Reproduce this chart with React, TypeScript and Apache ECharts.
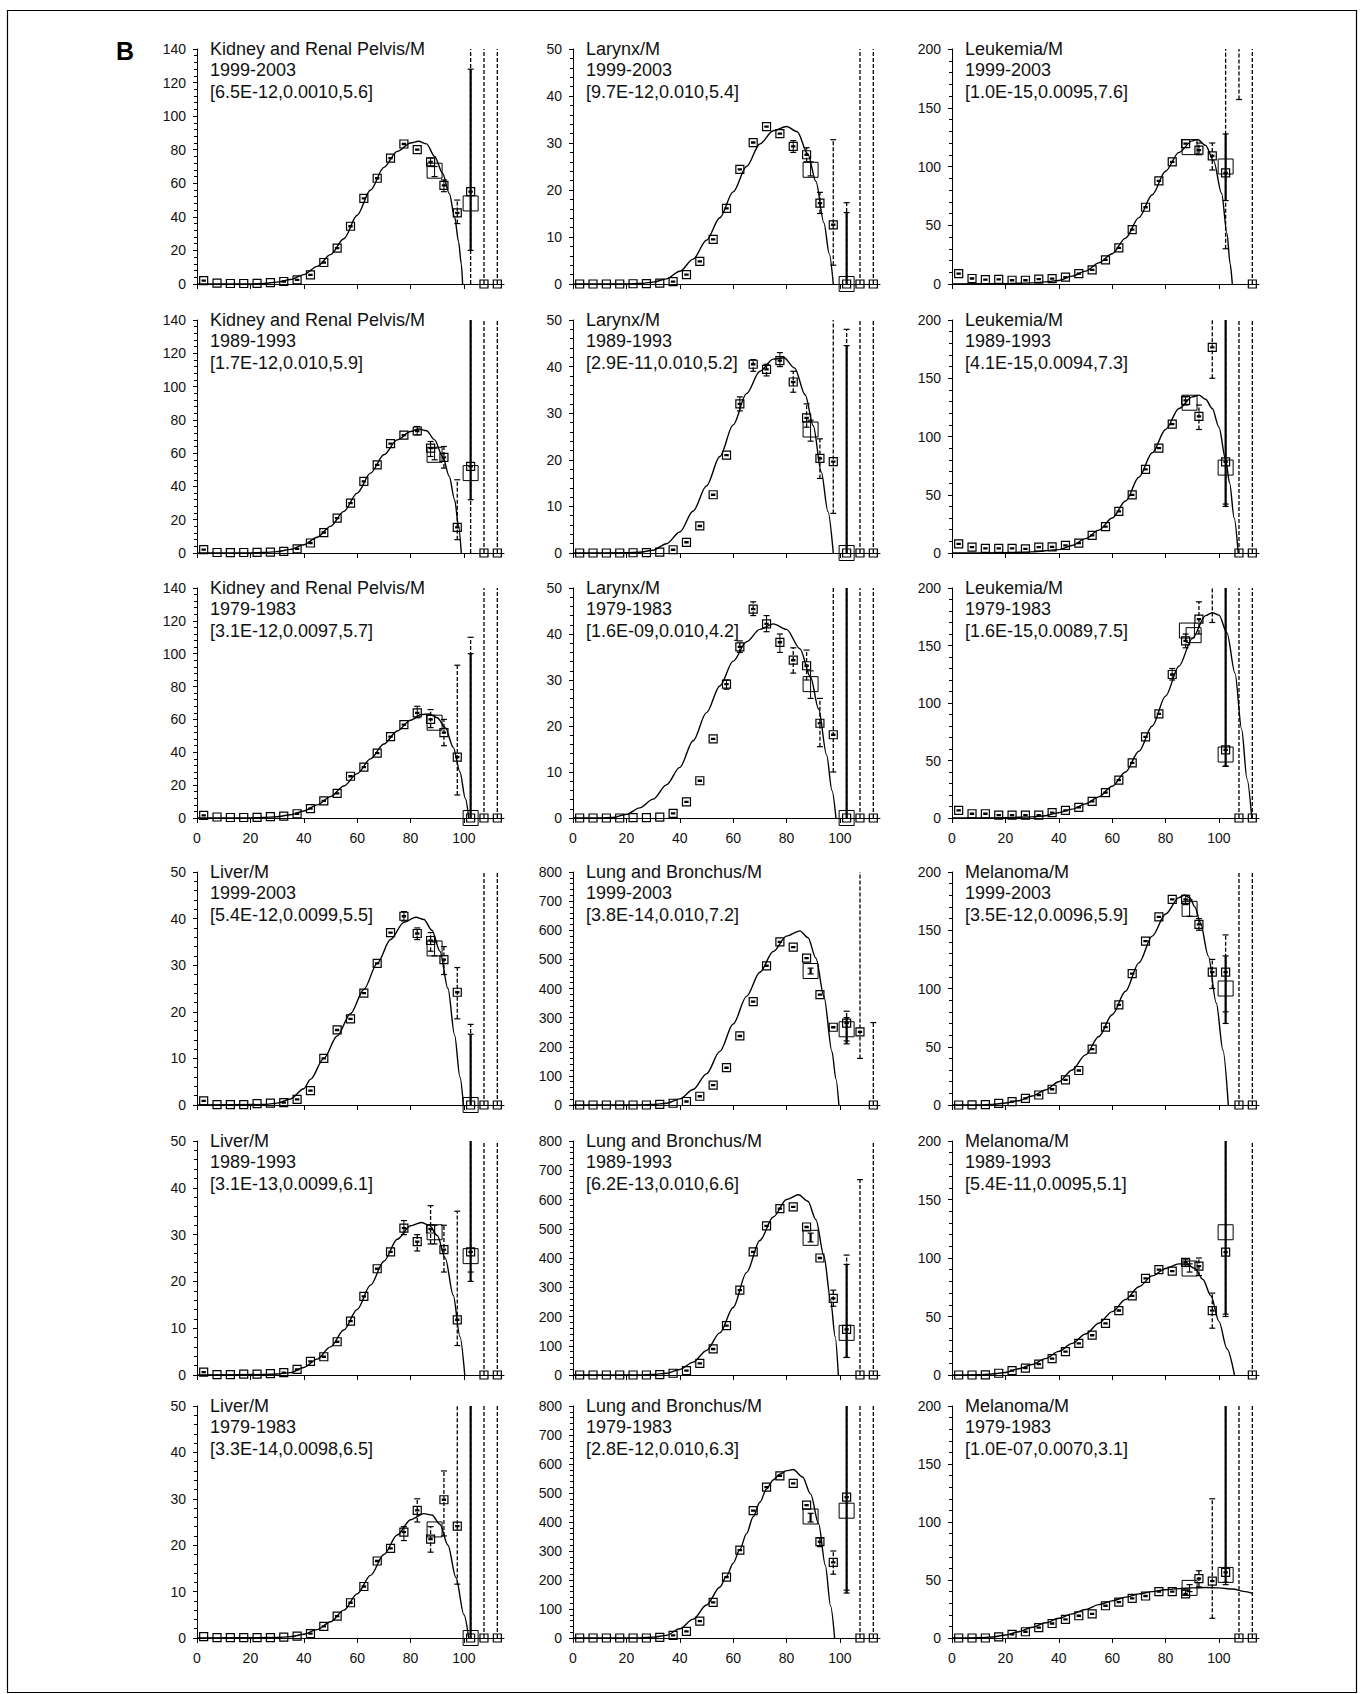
import { useEffect, useRef } from "react";
import * as echarts from "echarts";

// ---------- shared axis values ----------
const AGES = [2.5, 7.5, 12.5, 17.5, 22.5, 27.5, 32.5, 37.5, 42.5, 47.5, 52.5, 57.5, 62.5, 67.5, 72.5, 77.5, 82.5, 87.5, 92.5, 97.5, 102.5, 107.5, 112.5];
const X_TICKS = [0, 20, 40, 60, 80, 100];
const PERIODS = ["1999-2003", "1989-1993", "1979-1983"];

// ---------- Kidney and Renal Pelvis/M ----------
const kidney99Pts = [2, 0.5, 0.3, 0.3, 0.4, 0.8, 1.5, 2.5, 5.4, 12.8, 21.4, 34.4, 51, 63, 75, 83.4, 80, 72.8, 58.8, 42.4, 55, 0, 0];
const kidney99Big = [[89, 67.5], [102.5, 48]];
const kidney99Err = [[87.5, 70, 75, "s"], [89, 64, 70, "s"], [92.5, 55, 62, "s"], [97.5, 36, 50, "d"], [102.5, 20, 128, "S"], [102.5, 0, null, "d"], [107.5, 0, null, "d"], [112.5, 0, null, "d"]];
const kidney99Curve = [[0, 0], [20, 0.1], [25, 0.4], [30, 1.1], [35, 2.7], [40, 5.6], [45, 10.5], [50, 17.5], [55, 27], [60, 41], [65, 56], [70, 69.5], [75, 79], [80, 84], [83, 85], [86, 83.5], [89, 76], [92, 66], [94.5, 54], [96.5, 40], [98, 25], [99, 12], [99.5, 0]];

const kidney89Pts = [2, 0.3, 0.2, 0.3, 0.4, 0.5, 1, 2.5, 6, 12.3, 21, 30, 43, 53, 65.7, 70.8, 73.3, 63, 57.5, 15.4, 52, 0, 0];
const kidney89Big = [[89, 59], [102.5, 48]];
const kidney89Err = [[82.5, 71, 76, "s"], [87.5, 58, 67, "s"], [89, 56, 63, "s"], [92.5, 51, 64, "d"], [97.5, 8, 44, "d"], [102.5, 32, null, "S"], [102.5, 0, null, "d"], [107.5, 0, null, "d"], [112.5, 0, null, "d"]];
const kidney89Curve = [[0, 0], [20, 0.1], [25, 0.3], [30, 0.8], [35, 2.2], [40, 5], [45, 9.5], [50, 16], [55, 25], [60, 36], [65, 48], [70, 59], [75, 68], [80, 73], [83, 74.5], [86, 73.5], [89, 68], [92, 58], [94.5, 46], [96.5, 32], [98, 16], [99, 0]];

const kidney79Pts = [1.6, 0.6, 0.3, 0.3, 0.4, 0.8, 1.2, 2.6, 5.7, 10.4, 15, 25.4, 31, 39.5, 49.5, 56.8, 64, 60, 52, 37, 0, 0, 0];
const kidney79Big = [[89, 58], [102.5, 0]];
const kidney79Err = [[82.5, 61, 68, "s"], [87.5, 55, 66, "d"], [92.5, 44, 60, "d"], [97.5, 14, 93, "d"], [102.5, 0, 100, "S"], [102.5, 0, 110, "d"], [107.5, 0, null, "d"], [112.5, 0, null, "d"]];
const kidney79Curve = [[0, 0], [20, 0.1], [25, 0.3], [30, 0.8], [35, 2], [40, 4.3], [45, 8], [50, 13], [55, 19.5], [60, 27], [65, 36], [70, 45], [75, 53], [80, 59.5], [84, 63], [87, 63.3], [90, 61], [93, 55], [96, 43], [98.5, 28], [100.5, 12], [101.8, 0]];

// ---------- Larynx/M ----------
const larynx99Pts = [0, 0, 0, 0, 0.05, 0.1, 0.2, 0.5, 2, 4.8, 9.5, 16.1, 24.4, 30.1, 33.5, 32, 29.3, 27.5, 17.2, 12.6, 0, 0, 0];
const larynx99Big = [[89, 24.3], [102.5, 0]];
const larynx99Err = [[82.5, 28, 30.5, "s"], [87.5, 26, 29, "d"], [89, 23, 26, "s"], [92.5, 15, 19.5, "d"], [97.5, 4, 30.7, "d"], [102.5, 0, 15.2, "S"], [102.5, 0, 17.3, "d"], [107.5, 0, null, "d"], [112.5, 0, null, "d"]];
const larynx99Curve = [[0, 0], [20, 0], [25, 0.1], [30, 0.4], [35, 1.1], [40, 2.7], [45, 5.3], [50, 9.3], [55, 14.1], [60, 19.6], [65, 25], [70, 29.8], [75, 32.6], [80, 33.5], [84, 32.4], [88, 27.6], [91, 21.8], [94, 13], [96, 6.4], [97.5, 0]];

const larynx89Pts = [0, 0, 0, 0, 0.05, 0.1, 0.2, 0.7, 2.3, 5.8, 12.5, 21, 32, 40.5, 39.4, 41.3, 36.7, 29, 20.3, 19.6, 0, 0, 0];
const larynx89Big = [[89, 26.5], [102.5, 0]];
const larynx89Err = [[62.5, 30.5, 33.5, "s"], [67.5, 39, 41.5, "d"], [72.5, 38, 40.5, "d"], [77.5, 40, 43, "s"], [82.5, 34.5, 39, "d"], [87.5, 27, 32, "d"], [89, 24, 28.5, "s"], [92.5, 16, 24.5, "d"], [97.5, 8.5, null, "d"], [102.5, 0, 44.5, "S"], [102.5, 0, 48, "d"], [107.5, 0, null, "d"], [112.5, 0, null, "d"]];
const larynx89Curve = [[0, 0], [20, 0.05], [25, 0.15], [30, 0.6], [35, 2], [40, 4.5], [45, 9], [50, 14.4], [55, 20.7], [60, 27.5], [65, 34.2], [70, 39], [75, 41.6], [79, 41.9], [83, 39.7], [87, 33.9], [90, 27.3], [93, 17.4], [95.5, 8.9], [97.5, 0]];

const larynx79Pts = [0, 0, 0, 0, 0.1, 0.1, 0.2, 1, 3.5, 8.1, 17.2, 29.1, 37.2, 45.4, 42.2, 38.2, 34.3, 33.1, 20.6, 18.1, 0, 0, 0];
const larynx79Big = [[89, 29.1], [102.5, 0]];
const larynx79Err = [[57.5, 28, 30, "s"], [62.5, 36, 38.5, "d"], [67.5, 44, 47, "d"], [72.5, 40.5, 44, "s"], [77.5, 36, 40, "s"], [82.5, 31.5, 37, "d"], [87.5, 30, 36.5, "d"], [89, 26, 32, "s"], [92.5, 15.5, 26, "d"], [97.5, 10, null, "d"], [102.5, 0, null, "S"], [102.5, 0, null, "d"], [107.5, 0, null, "d"], [112.5, 0, null, "d"]];
const larynx79Curve = [[0, 0], [10, 0], [15, 0.1], [20, 0.8], [25, 2.2], [30, 4.1], [35, 7.2], [40, 11], [45, 16.8], [50, 22.9], [55, 28.7], [60, 34.1], [65, 38.3], [70, 41], [75, 42.2], [80, 41], [85, 36.8], [89, 30.6], [92, 23.7], [95, 13.7], [97, 6], [98.5, 0]];

// ---------- Leukemia/M ----------
const leukemia99Pts = [8.8, 4.7, 3.8, 4, 3.2, 3.2, 4.2, 4.5, 5.9, 8.8, 12, 20.5, 30.7, 46.3, 65.3, 87.8, 104, 119.5, 114, 109, 94.6, null, 0];
const leukemia99Big = [[89, 116.5], [102.5, 100]];
const leukemia99Err = [[92.5, 110, 120, "d"], [97.5, 97, 120, "d"], [102.5, 71, 127.7, "S"], [102.5, 30, null, "d"], [107.5, 157, null, "d"], [112.5, 0, null, "d"]];
const leukemia99Curve = [[0, 0], [20, 0.3], [30, 1], [35, 1.8], [40, 3], [45, 6.7], [50, 11], [55, 18], [60, 25.8], [65, 39], [70, 56.5], [75, 76], [80, 96], [85, 112], [90, 121.8], [92, 123], [95, 118], [98, 104.8], [101, 77], [103, 43], [104.2, 17], [105, 0]];

const leukemia89Pts = [7.9, 5, 4, 4, 4, 3.5, 5, 5.3, 6.5, 8.5, 15.2, 22.6, 35.8, 49.9, 71.8, 90, 110.6, 131, 117.3, 176.5, 78.3, 0, 0];
const leukemia89Big = [[89, 129], [102.5, 73.3]];
const leukemia89Err = [[87.5, 127, 134, "s"], [92.5, 106, 127, "d"], [97.5, 150, null, "d"], [102.5, 40, null, "S"], [102.5, 42, null, "d"], [107.5, 0, null, "d"], [112.5, 0, null, "d"]];
const leukemia89Curve = [[0, 0], [20, 0.2], [30, 1], [40, 2.9], [45, 6.5], [50, 12.3], [55, 19.6], [60, 30], [65, 44.6], [70, 65], [75, 86], [80, 106], [85, 124], [90, 134], [92.5, 135.5], [95, 132], [97.5, 124], [100, 108], [102.5, 80], [104, 60], [105.7, 30], [107.2, 0]];

const leukemia79Pts = [6.7, 3.7, 3.7, 2.5, 2.5, 2.5, 2.5, 4.6, 6.7, 9.2, 14.4, 22, 33, 48, 70.6, 90.5, 124.8, 154, 173, null, 59.2, 0, 0];
const leukemia79Big = [[88, 163], [90.5, 159], [102.5, 55.2]];
const leukemia79Err = [[82.5, 120, 130, "s"], [87.5, 148, 160, "d"], [92.5, 160, 188, "d"], [97.5, 170, null, "d"], [102.5, 45, null, "S"], [102.5, 45, null, "d"], [107.5, 0, null, "d"], [112.5, 0, null, "d"]];
const leukemia79Curve = [[0, 0], [5, 0], [20, 0.3], [30, 1], [35, 2], [40, 4.6], [45, 7.7], [50, 12.3], [55, 18.4], [60, 27.6], [65, 40], [70, 58], [75, 80], [80, 106], [85, 132], [90, 156], [95, 176], [97.5, 178.5], [100, 176.4], [103, 161], [106, 126], [108.5, 77], [110.5, 34], [112.3, 0]];

// ---------- Liver/M ----------
const liver99Pts = [0.9, 0.1, 0.1, 0.1, 0.3, 0.4, 0.5, 1.2, 3.1, 10, 16.1, 18.5, 24, 30.4, 37, 40.5, 36.8, 35.3, 31.2, 24.2, 0, 0, 0];
const liver99Big = [[89, 33.6], [102.5, 0]];
const liver99Err = [[77.5, 39.5, 41.5, "s"], [82.5, 35.5, 38, "d"], [87.5, 33, 37, "d"], [89, 32, 35, "s"], [92.5, 28, 34, "d"], [97.5, 18.5, 29.5, "d"], [102.5, 0, 15.2, "S"], [102.5, 0, 17.3, "d"], [107.5, 0, null, "d"], [112.5, 0, null, "d"]];
const liver99Curve = [[0, 0], [25, 0.1], [30, 0.4], [35, 1.3], [40, 3.5], [42.5, 5.5], [47.5, 10], [52.5, 14.8], [57.5, 19.6], [62.5, 24.8], [67.5, 30.4], [72.5, 35.5], [77.5, 39.2], [82, 40.3], [85, 39.8], [88, 37.5], [91, 33], [94, 25], [96.5, 15], [98.5, 6], [99.8, 0]];

const liver89Pts = [0.6, 0.1, 0.1, 0.2, 0.2, 0.3, 0.5, 1.2, 2.9, 3.9, 7.1, 11.5, 16.8, 22.7, 26.3, 31.4, 28.5, 31.2, 26.8, 11.8, 26.3, 0, 0];
const liver89Big = [[89, 30.5], [102.5, 25.4]];
const liver89Err = [[77.5, 30, 33, "s"], [82.5, 26.5, 30, "d"], [87.5, 28, 36.2, "d"], [89, 28, 32, "s"], [92.5, 22, 32, "d"], [97.5, 6.3, 35, "d"], [102.5, 20, null, "S"], [102.5, 22, null, "d"], [107.5, 0, null, "d"], [112.5, 0, null, "d"]];
const liver89Curve = [[0, 0], [25, 0.1], [30, 0.2], [35, 0.5], [40, 1.6], [45, 3.4], [50, 6], [55, 9.6], [60, 14], [65, 19.2], [70, 24.3], [75, 29], [80, 31.9], [84, 32.6], [87, 32], [90, 29.8], [93, 25], [96, 17], [98.5, 8.2], [100.3, 0]];

const liver79Pts = [0.3, 0.1, 0.1, 0.1, 0.1, 0.1, 0.2, 0.4, 0.95, 2.5, 4.7, 7.6, 11.1, 16.6, 19.3, 22.8, 27.5, 21.3, 29.8, 24.1, 0, 0, 0];
const liver79Big = [[89, 23.4], [102.5, 0]];
const liver79Err = [[77.5, 21, 24, "s"], [82.5, 25, 30, "d"], [87.5, 18.5, 24, "d"], [92.5, 22, 36, "d"], [97.5, 11.6, null, "d"], [102.5, 0, null, "S"], [102.5, 0, null, "d"], [107.5, 0, null, "d"], [112.5, 0, null, "d"]];
const liver79Curve = [[0, 0], [30, 0.1], [35, 0.3], [40, 0.8], [45, 1.8], [50, 3.5], [55, 6], [60, 9.5], [65, 13.5], [70, 18], [75, 22.2], [80, 25.5], [85, 26.8], [88, 26.5], [91, 24.5], [94, 20], [97, 13], [100, 5], [101.8, 0]];

// ---------- Lung and Bronchus/M ----------
const lung99Pts = [0, 0, 0, 0, 0, 0, 2, 6, 12, 30, 68, 128, 237, 355, 478, 560, 542, 504, 379, 267, 281, 251, 0];
const lung99Big = [[89, 460], [102.5, 260]];
const lung99Err = [[89, 450, 470, "S"], [102.5, 220, 322, "d"], [102.5, 210, 300, "S"], [107.5, 160, null, "d"], [112.5, 0, 283, "d"]];
const lung99Curve = [[0, 0], [25, 0], [30, 2], [35, 6], [40, 21], [45, 53], [50, 107], [55, 184], [60, 278], [65, 373], [70, 456], [75, 527], [80, 580], [85, 598], [88, 575], [91, 504], [94, 373], [97, 184], [98.5, 89], [99.6, 0]];

const lung89Pts = [0, 0, 0, 0, 0, 0, 1, 6, 15, 40, 89, 169, 290, 421, 510, 569, 575, 506, 400, 262, 156, 0, 0];
const lung89Big = [[89, 469], [102.5, 144]];
const lung89Err = [[89, 455, 485, "S"], [97.5, 235, 290, "d"], [102.5, 60, 378, "S"], [102.5, 60, 410, "d"], [107.5, 0, 668, "d"], [112.5, 0, null, "d"]];
const lung89Curve = [[0, 0], [25, 0], [30, 2], [35, 6], [40, 19], [45, 44], [50, 84], [55, 144], [60, 231], [65, 350], [70, 460], [75, 540], [80, 600], [84.5, 616], [88, 594], [91, 531], [94, 406], [96.5, 256], [98.2, 131], [99.4, 0]];

const lung79Pts = [0, 0, 0, 0, 0, 0, 2, 9, 23, 58, 123, 210, 303, 439, 520, 559, 533, 458, 332, 261, 486, 0, 0];
const lung79Big = [[89, 419], [102.5, 439]];
const lung79Err = [[89, 400, 430, "S"], [92.5, 315, 345, "d"], [97.5, 220, 300, "d"], [102.5, 155, null, "S"], [102.5, 165, null, "d"], [107.5, 0, null, "d"], [112.5, 0, null, "d"]];
const lung79Curve = [[0, 0], [25, 0], [30, 3], [35, 9], [40, 32], [45, 65], [50, 114], [55, 175], [57.5, 213], [60, 258], [62.5, 305], [65, 360], [67.5, 418], [70, 468], [72.5, 514], [75, 545], [77.5, 565], [80, 577], [82.5, 581], [86, 555], [89, 497], [92, 394], [94.5, 252], [96.5, 110], [98, 0]];

// ---------- Melanoma/M ----------
const melanoma99Pts = [0, 0.1, 0.3, 1.4, 2.9, 5.7, 8.6, 13.5, 21.5, 29.6, 47.9, 66.9, 86, 112.8, 140.6, 161.5, 176.5, 176.5, 155, 114, 114, 0, 0];
const melanoma99Big = [[89, 168.4], [102.5, 100]];
const melanoma99Err = [[87.5, 172, 180, "s"], [89, 162, 176, "s"], [92.5, 150, 160, "d"], [97.5, 100, 125, "d"], [102.5, 70, 128, "S"], [102.5, 80, 146, "d"], [107.5, 0, null, "d"], [112.5, 0, null, "d"]];
const melanoma99Curve = [[0, 0], [10, 0.1], [15, 0.5], [20, 1.7], [25, 3.7], [30, 7.7], [35, 12.9], [40, 20], [45, 30], [50, 43], [55, 58.8], [60, 77.5], [65, 97.6], [70, 122], [75, 145], [80, 164], [85, 178], [87, 180], [89, 178], [91, 170], [93, 157], [96, 128], [99, 87.5], [101.5, 47], [103.5, 0]];

const melanoma89Pts = [0, 0, 0.1, 1.5, 3.7, 5.9, 9.3, 14, 20, 27.1, 34, 44.2, 55.1, 67.6, 82.6, 90, 88.8, 96.3, 93.1, 55, 105, null, 0];
const melanoma89Big = [[89, 91], [102.5, 122]];
const melanoma89Err = [[87.5, 93, 99, "s"], [89, 88, 95, "s"], [92.5, 85, 100, "d"], [97.5, 40, 70, "d"], [102.5, 52, null, "S"], [102.5, 50, null, "d"], [112.5, 0, null, "d"]];
const melanoma89Curve = [[0, 0], [10, 0.2], [15, 0.8], [20, 2.2], [25, 5.3], [30, 9], [35, 14], [40, 20.2], [45, 27], [50, 35], [55, 44.2], [60, 54.2], [65, 64.5], [70, 75.4], [75, 84.7], [80, 91], [85, 95], [88, 94.7], [91, 91], [94, 81.6], [97, 67.6], [100, 45.8], [103, 22.4], [105.8, 0]];

const melanoma79Pts = [0, 0, 0, 1, 3.2, 5.4, 9, 12.5, 16, 19.2, 20.8, 27.8, 31, 34.2, 36.2, 40, 40, 38, 51.2, 49, 56.6, 0, 0];
const melanoma79Big = [[89, 43.2], [102.5, 54.4]];
const melanoma79Err = [[87.5, 37, 41, "s"], [89, 40, 46, "s"], [92.5, 44, 58, "d"], [97.5, 17, 120, "d"], [102.5, 48, null, "S"], [102.5, 46, null, "d"], [107.5, 0, null, "d"], [112.5, 0, null, "d"]];
const melanoma79Curve = [[0, 0], [10, 0.2], [15, 0.8], [20, 2.6], [25, 5.4], [30, 9.3], [35, 13.1], [40, 17], [45, 20.8], [50, 24.6], [55, 28.8], [60, 32], [65, 35.2], [70, 38], [75, 40], [80, 41.6], [85, 42.6], [90, 43.2], [95, 43.5], [100, 43.2], [105, 42.2], [110, 40], [112.5, 38.4]];

// ---------- panel table (built from the arrays above) ----------
type Panel = {
  site: string; period: string; params: string; yMax: number; yInt: number;
  pts: (number | null)[]; big: number[][]; err: any[]; curve: number[][];
};
const mk = (site: string, period: string, params: string, yMax: number, yInt: number, pts: any, big: any, err: any, curve: any): Panel =>
  ({ site, period, params, yMax, yInt, pts, big, err, curve });

const PANELS: Panel[] = [
  mk("Kidney and Renal Pelvis/M", PERIODS[0], "[6.5E-12,0.0010,5.6]", 140, 20, kidney99Pts, kidney99Big, kidney99Err, kidney99Curve),
  mk("Larynx/M", PERIODS[0], "[9.7E-12,0.010,5.4]", 50, 10, larynx99Pts, larynx99Big, larynx99Err, larynx99Curve),
  mk("Leukemia/M", PERIODS[0], "[1.0E-15,0.0095,7.6]", 200, 50, leukemia99Pts, leukemia99Big, leukemia99Err, leukemia99Curve),
  mk("Kidney and Renal Pelvis/M", PERIODS[1], "[1.7E-12,0.010,5.9]", 140, 20, kidney89Pts, kidney89Big, kidney89Err, kidney89Curve),
  mk("Larynx/M", PERIODS[1], "[2.9E-11,0.010,5.2]", 50, 10, larynx89Pts, larynx89Big, larynx89Err, larynx89Curve),
  mk("Leukemia/M", PERIODS[1], "[4.1E-15,0.0094,7.3]", 200, 50, leukemia89Pts, leukemia89Big, leukemia89Err, leukemia89Curve),
  mk("Kidney and Renal Pelvis/M", PERIODS[2], "[3.1E-12,0.0097,5.7]", 140, 20, kidney79Pts, kidney79Big, kidney79Err, kidney79Curve),
  mk("Larynx/M", PERIODS[2], "[1.6E-09,0.010,4.2]", 50, 10, larynx79Pts, larynx79Big, larynx79Err, larynx79Curve),
  mk("Leukemia/M", PERIODS[2], "[1.6E-15,0.0089,7.5]", 200, 50, leukemia79Pts, leukemia79Big, leukemia79Err, leukemia79Curve),
  mk("Liver/M", PERIODS[0], "[5.4E-12,0.0099,5.5]", 50, 10, liver99Pts, liver99Big, liver99Err, liver99Curve),
  mk("Lung and Bronchus/M", PERIODS[0], "[3.8E-14,0.010,7.2]", 800, 100, lung99Pts, lung99Big, lung99Err, lung99Curve),
  mk("Melanoma/M", PERIODS[0], "[3.5E-12,0.0096,5.9]", 200, 50, melanoma99Pts, melanoma99Big, melanoma99Err, melanoma99Curve),
  mk("Liver/M", PERIODS[1], "[3.1E-13,0.0099,6.1]", 50, 10, liver89Pts, liver89Big, liver89Err, liver89Curve),
  mk("Lung and Bronchus/M", PERIODS[1], "[6.2E-13,0.010,6.6]", 800, 100, lung89Pts, lung89Big, lung89Err, lung89Curve),
  mk("Melanoma/M", PERIODS[1], "[5.4E-11,0.0095,5.1]", 200, 50, melanoma89Pts, melanoma89Big, melanoma89Err, melanoma89Curve),
  mk("Liver/M", PERIODS[2], "[3.3E-14,0.0098,6.5]", 50, 10, liver79Pts, liver79Big, liver79Err, liver79Curve),
  mk("Lung and Bronchus/M", PERIODS[2], "[2.8E-12,0.010,6.3]", 800, 100, lung79Pts, lung79Big, lung79Err, lung79Curve),
  mk("Melanoma/M", PERIODS[2], "[1.0E-07,0.0070,3.1]", 200, 50, melanoma79Pts, melanoma79Big, melanoma79Err, melanoma79Curve),
];

// ---------- layout ----------
const FONT = '"Liberation Sans", Arial, Helvetica, sans-serif';
const COL_LEFT = [197, 573, 952];
const GRID_W = 307;
const ROW_TOP = [49, 320, 588, 872, 1141, 1406];
const ROW_H = [235, 233, 230, 233, 234, 232];
const X_MAX = 115;

const SQ_PATH = "path://M0,0H10V10H0Z M3,4.3H7V5.7H3Z";

function renderErr(params: any, api: any) {
  const age = api.value(0);
  const lo = api.value(1);
  const hi = api.value(2);
  const kind = api.value(3);
  const toTop = api.value(4);
  const cs = params.coordSys;
  const pLo = api.coord([age, lo]);
  const x = pLo[0];
  const yLo = pLo[1];
  const yHi = toTop ? cs.y : api.coord([age, hi])[1];
  const st: any = { stroke: "#000", lineWidth: kind === 2 ? 2.2 : kind === 0 ? 1.3 : 1, fill: null };
  if (kind === 0) st.lineDash = [4, 2];
  const children: any[] = [{ type: "line", shape: { x1: x, y1: yLo, x2: x, y2: yHi }, style: st }];
  const cw = 3;
  const capSt = { stroke: "#000", lineWidth: 1.2 };
  if (!toTop) children.push({ type: "line", shape: { x1: x - cw, y1: yHi, x2: x + cw, y2: yHi }, style: capSt });
  if (lo > 0) children.push({ type: "line", shape: { x1: x - cw, y1: yLo, x2: x + cw, y2: yLo }, style: capSt });
  return { type: "group", children };
}

function buildOption() {
  const grid: any[] = [];
  const xAxis: any[] = [];
  const yAxis: any[] = [];
  const series: any[] = [];
  const graphic: any[] = [];
  const sqStyle = { color: "rgba(0,0,0,0)", borderColor: "#000", borderWidth: 1.2, opacity: 1 };

  PANELS.forEach((p, i) => {
    const row = Math.floor(i / 3);
    const col = i % 3;
    const left = COL_LEFT[col];
    const top = ROW_TOP[row];
    grid.push({ left, top, width: GRID_W, height: ROW_H[row], containLabel: false });
    const showXLabels = row === 2 || row === 5;
    xAxis.push({
      gridIndex: i, type: "value", min: 0, max: X_MAX, interval: 20,
      axisLine: { show: true, onZero: false, lineStyle: { color: "#000", width: 1 } },
      axisTick: { show: true, length: 5, customValues: X_TICKS, lineStyle: { color: "#000" } },
      axisLabel: {
        show: showXLabels, customValues: X_TICKS, fontSize: 14, color: "#111", fontFamily: FONT, margin: 13,
        formatter: (v: number) => (v % 20 === 0 && v <= 100 ? String(v) : ""),
      },
      splitLine: { show: false },
    });
    yAxis.push({
      gridIndex: i, type: "value", min: 0, max: p.yMax, interval: p.yInt,
      axisLine: { show: true, onZero: false, lineStyle: { color: "#000", width: 1 } },
      axisTick: { show: true, length: 4, lineStyle: { color: "#000" } },
      minorTick: { show: true, splitNumber: 5, length: 3, lineStyle: { color: "#000", width: 1 } },
      axisLabel: { fontSize: 14, color: "#111", fontFamily: FONT, margin: 11 },
      splitLine: { show: false },
    });

    const small: number[][] = [];
    const zero: number[][] = [];
    AGES.forEach((a, k) => {
      const v = p.pts[k];
      if (v == null) return;
      (v < p.yMax * 0.01 ? zero : small).push([a, v]);
    });
    const errData = p.err.map((e: any[]) => [
      e[0], e[1], e[2] == null ? p.yMax : e[2],
      e[3] === "d" ? 0 : e[3] === "s" ? 1 : 2,
      e[2] == null ? 1 : 0,
    ]);

    series.push({
      type: "line", xAxisIndex: i, yAxisIndex: i, data: p.curve, showSymbol: false, symbol: "none",
      smooth: 0.3, smoothMonotone: "x", lineStyle: { color: "#000", width: 1.4 }, silent: true, z: 2,
    });
    series.push({
      type: "custom", xAxisIndex: i, yAxisIndex: i, data: errData, renderItem: renderErr,
      clip: false, silent: true, z: 3,
    });
    series.push({
      type: "scatter", xAxisIndex: i, yAxisIndex: i, data: small, symbol: SQ_PATH, symbolSize: 8,
      itemStyle: sqStyle, silent: true, z: 4,
    });
    series.push({
      type: "scatter", xAxisIndex: i, yAxisIndex: i, data: zero, symbol: "rect", symbolSize: 8,
      itemStyle: sqStyle, silent: true, z: 4,
    });
    series.push({
      type: "scatter", xAxisIndex: i, yAxisIndex: i, data: p.big, symbol: "rect", symbolSize: 15,
      itemStyle: { ...sqStyle, borderWidth: 1 }, silent: true, z: 4,
    });

    graphic.push({
      type: "text", x: left + 13, y: top - 11, silent: true,
      style: {
        text: [p.site, p.period, p.params].join("\n"),
        fontSize: 18, fontFamily: FONT, lineHeight: 21.5, fill: "#111",
      },
    });
  });

  graphic.push({
    type: "rect", silent: true, shape: { x: 7.5, y: 10.5, width: 1349, height: 1682 },
    style: { fill: "none", stroke: "#000", lineWidth: 1.2 },
  });
  graphic.push({
    type: "text", x: 116, y: 38, silent: true,
    style: { text: "B", fontSize: 25, fontWeight: "bold", fontFamily: FONT, fill: "#000" },
  });

  return {
    animation: false,
    backgroundColor: "#fff",
    textStyle: { fontFamily: FONT },
    grid, xAxis, yAxis, series, graphic,
  };
}

export default function App() {
  const ref = useRef<HTMLDivElement>(null);
  useEffect(() => {
    document.body.style.margin = "0";
    const chart = echarts.init(ref.current!, null, { renderer: "svg" });
    chart.setOption(buildOption() as any);
    return () => chart.dispose();
  }, []);
  return <div ref={ref} style={{ width: 1363, height: 1694 }} />;
}
